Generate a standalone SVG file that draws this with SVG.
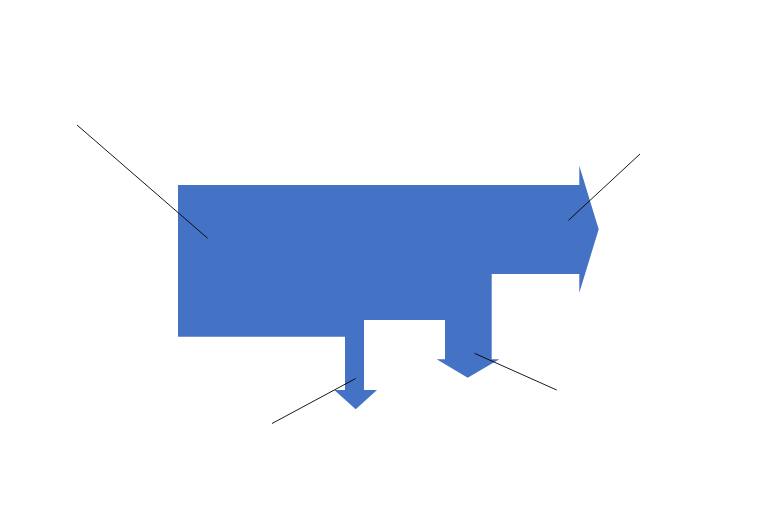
<svg xmlns="http://www.w3.org/2000/svg" width="778" height="519" viewBox="0 0 778 519">
<style>
.flow{fill:#4472C4;stroke:none}
.leader{stroke:#000;stroke-width:0.9;fill:none}
</style>
<rect width="778" height="519" fill="#fff"/>
<g id="sankey">
<path class="flow" d="M178,185 L579.3,185 L579.3,165.7 L598.7,229.3 L579.3,292.7 L579.3,274 L491.7,274 L491.7,359.3 L499.3,359.3 L467.7,377.7 L436.7,359.3 L445,359.3 L445,320 L364,320 L364,390 L377,390 L355.7,409.3 L334.3,390 L345,390 L345,336.7 L178,336.7 Z"/>
</g>
<g id="connectors">
<line class="leader" x1="77" y1="125" x2="207.7" y2="238.3"/>
<line class="leader" x1="640" y1="154" x2="568.5" y2="220.3"/>
<line class="leader" x1="474.5" y1="353.3" x2="556.7" y2="390"/>
<line class="leader" x1="355.7" y1="378.5" x2="272" y2="423.5"/>
</g>
</svg>
